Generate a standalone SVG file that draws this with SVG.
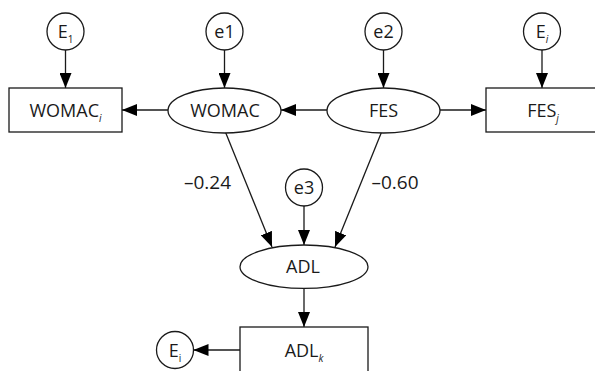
<svg xmlns="http://www.w3.org/2000/svg" width="595" height="371" viewBox="0 0 595 371">
<style>
.n{fill:#fff;stroke:#1a1a1a;stroke-width:1.3}
.t{font-family:"Open Sans","Noto Sans",sans-serif;font-size:18px;fill:#1a1a1a;text-anchor:middle}
.s{font-size:10px}
.i{font-style:italic}
.c line{stroke:#1a1a1a;stroke-width:1.3;marker-end:url(#a)}
</style>
<defs>
<marker id="a" markerUnits="userSpaceOnUse" markerWidth="15" markerHeight="12" refX="15" refY="6" orient="auto">
<path d="M0,0 L15,6 L0,12 Z" fill="#000"/>
</marker>
</defs>
<g class="c">
<line x1="65.5" y1="50" x2="65.5" y2="88"/>
<line x1="224.5" y1="50" x2="224.5" y2="88"/>
<line x1="383.5" y1="50" x2="383.5" y2="88"/>
<line x1="542" y1="50" x2="542" y2="88"/>
<line x1="168" y1="110" x2="122" y2="110"/>
<line x1="327" y1="110" x2="281" y2="110"/>
<line x1="440" y1="110" x2="486" y2="110"/>
<line x1="225" y1="131" x2="272" y2="247"/>
<line x1="382" y1="131" x2="335" y2="247"/>
<line x1="304" y1="206" x2="304" y2="245"/>
<line x1="304" y1="288.5" x2="304" y2="327"/>
<line x1="240" y1="350" x2="193.5" y2="350"/>
</g>
<g id="E1"><circle class="n" cx="65.5" cy="31.5" r="18.5"/><text class="t" x="65.5" y="38">E<tspan class="s" dy="5">1</tspan></text></g>
<g id="e1"><circle class="n" cx="224.5" cy="31.5" r="18.5"/><text class="t" x="224.5" y="38">e1</text></g>
<g id="e2"><circle class="n" cx="383.5" cy="31.5" r="18.5"/><text class="t" x="383.5" y="38">e2</text></g>
<g id="Ei_top"><circle class="n" cx="542" cy="31.5" r="18.5"/><text class="t" x="542" y="38">E<tspan class="s i" dy="5">i</tspan></text></g>
<g id="WOMACi"><rect class="n" x="9" y="88" width="113" height="44"/><text class="t" x="65.5" y="117">WOMAC<tspan class="s i" dy="5">i</tspan></text></g>
<g id="WOMAC"><ellipse class="n" cx="224.5" cy="110.5" rx="56.5" ry="22.5"/><text class="t" x="225" y="117">WOMAC</text></g>
<g id="FES"><ellipse class="n" cx="383.5" cy="110.5" rx="56.5" ry="22.5"/><text class="t" x="383.5" y="117">FES</text></g>
<g id="FESj"><rect class="n" x="486" y="88" width="112" height="44"/><text class="t" x="543" y="117">FES<tspan class="s i" dy="5">j</tspan></text></g>
<g id="e3"><circle class="n" cx="304" cy="187.5" r="18.5"/><text class="t" x="304" y="194">e3</text></g>
<g id="ADL"><ellipse class="n" cx="304" cy="266.7" rx="64" ry="21.7"/><text class="t" x="303" y="273">ADL</text></g>
<g id="ADLk"><rect class="n" x="240" y="327" width="128" height="50"/><text class="t" x="304" y="357">ADL<tspan class="s i" dy="5">k</tspan></text></g>
<g id="Ei_bottom"><circle class="n" cx="175" cy="350" r="18.5"/><text class="t" x="175" y="356.5">E<tspan class="s" dy="5">i</tspan></text></g>
<g id="labels">
<text class="t" x="207.5" y="189" style="font-size:19px">–0.24</text>
<text class="t" x="395" y="189" style="font-size:19px">–0.60</text>
</g>
</svg>
